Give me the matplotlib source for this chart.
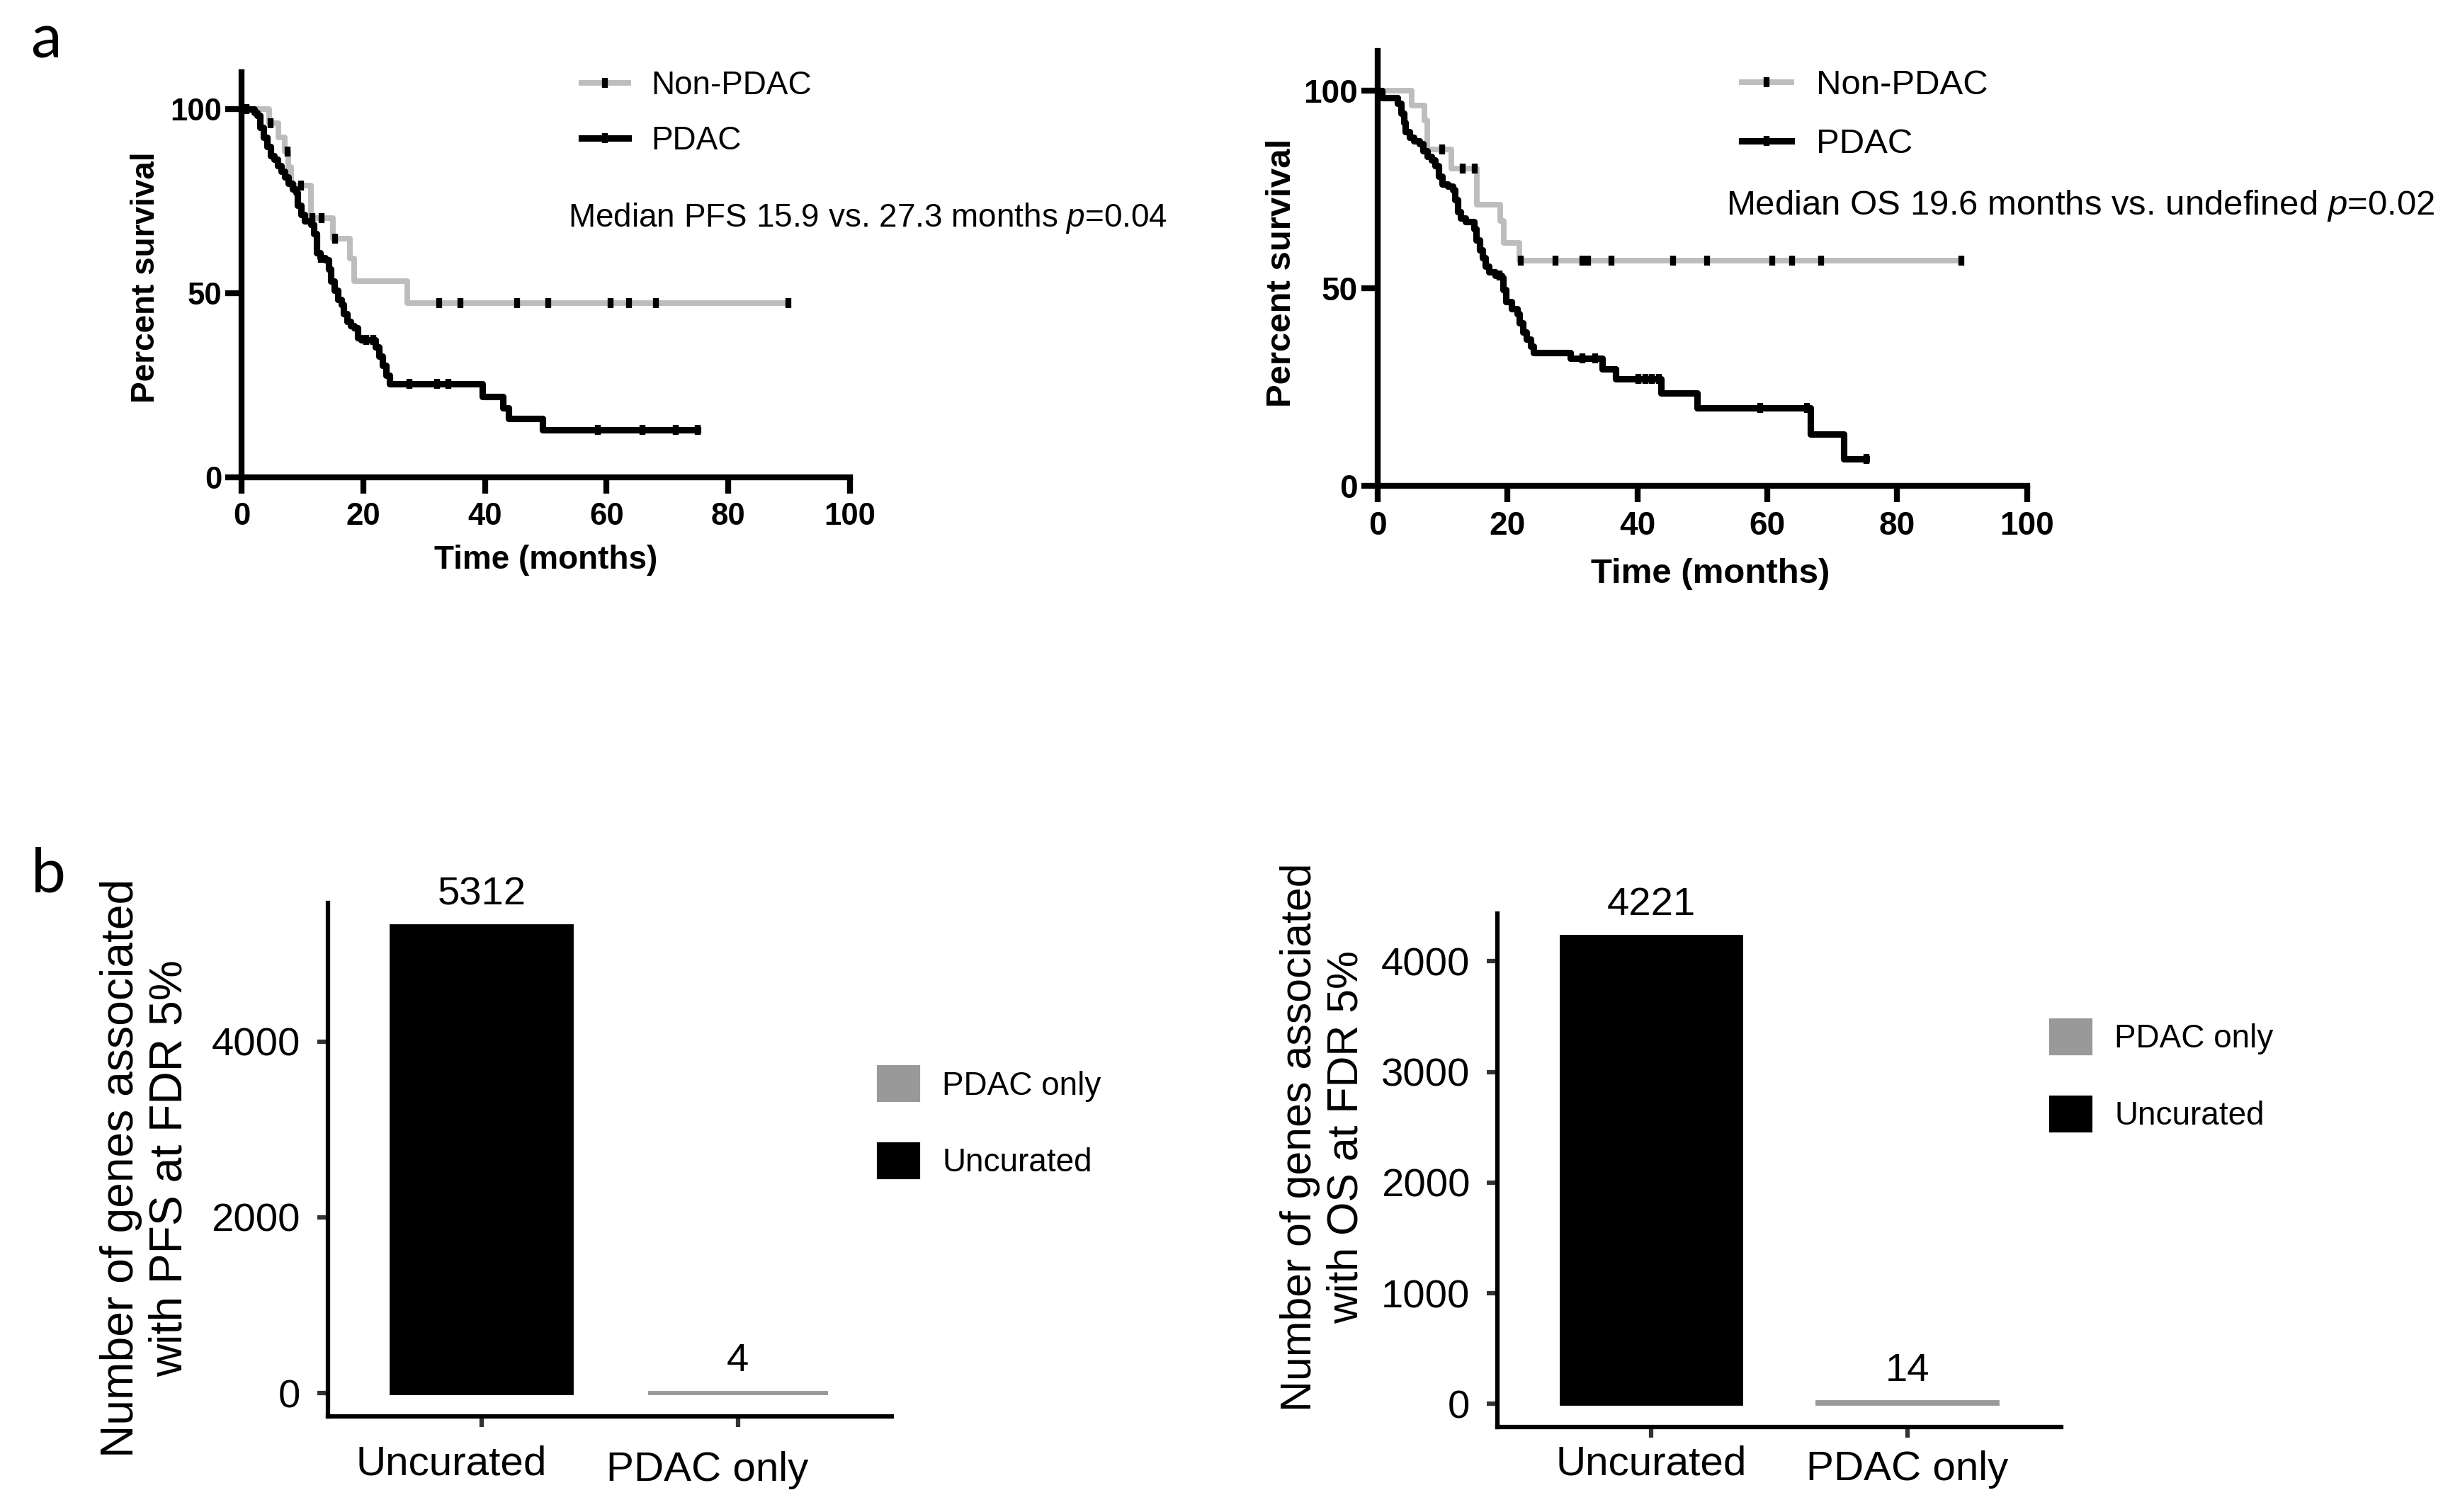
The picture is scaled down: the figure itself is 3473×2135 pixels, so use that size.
#!/usr/bin/env python3
"""Kaplan-Meier curves (PFS / OS, PDAC vs non-PDAC) plus gene-count bar panels."""

import matplotlib

matplotlib.use("Agg")
import matplotlib.pyplot as plt
import numpy as np
from matplotlib.lines import Line2D
from matplotlib.patches import Patch
from matplotlib.transforms import ScaledTranslation

plt.rcParams["font.family"] = ["Liberation Sans", "DejaVu Sans"]
plt.rcParams["mathtext.fontset"] = "custom"
plt.rcParams["mathtext.rm"] = "Liberation Sans"
plt.rcParams["mathtext.it"] = "Liberation Sans:italic"

# ---- PFS (months, percent surviving after each event)
pfs_non_t = [4.5, 6.1, 7.1, 7.7, 8.1, 11.4, 15.0, 17.8, 18.5, 27.2]
pfs_non_s = [96.2, 92.4, 88.5, 84.3, 79.3, 70.3, 64.9, 59.4, 53.3, 47.4]
pfs_non_cens = [4.8, 7.6, 9.8, 11.6, 13.1, 15.4, 32.5, 36.0, 45.3, 50.4, 60.7, 63.7, 68.1, 89.9]

pfs_pdac_t = [2.05, 2.6, 3.0, 3.6, 4.2, 4.8, 5.3, 5.9, 6.5, 7.1, 7.7, 8.4, 9.0, 9.2, 9.8,
              10.4, 11.4, 11.9, 12.3, 12.9, 13.7, 14.3, 14.7, 15.2, 15.8, 16.4, 16.8,
              17.4, 17.9, 18.5, 19.1, 19.7, 22.0, 22.6, 23.2, 23.8, 24.3, 39.6, 42.9,
              43.9, 49.5]
pfs_pdac_s = [99.0, 98.2, 95.0, 92.4, 89.9, 87.3, 86.3, 84.7, 83.1, 81.5, 79.9, 78.3,
              77.4, 73.8, 71.3, 69.7, 68.7, 66.2, 61.0, 59.7, 59.1, 56.5, 53.3, 50.8,
              48.2, 46.9, 44.4, 42.4, 41.2, 40.5, 37.9, 37.3, 35.4, 32.8, 30.3, 27.7,
              25.4, 22.0, 18.9, 15.9, 12.9]
pfs_pdac_cens = [0.8, 13.0, 20.5, 21.7, 27.6, 32.1, 34.0, 58.6, 65.9, 71.4, 75.0]

# ---- OS
os_non_t = [5.2, 7.2, 7.6, 11.4, 15.3, 18.9, 19.4, 21.8]
os_non_s = [96.2, 92.5, 85.1, 80.3, 71.1, 67.0, 61.5, 56.9]
os_non_cens = [9.9, 13.1, 15.0, 22.0, 27.4, 31.5, 32.4, 36.0, 45.5, 50.7, 60.8, 63.8, 68.3, 89.9]

os_pdac_t = [0.7, 3.1, 3.6, 4.0, 4.3, 4.9, 5.6, 6.5, 7.0, 7.6, 8.3, 8.8, 9.4, 9.9, 10.8,
             11.6, 11.9, 12.3, 12.8, 13.5, 14.8, 15.2, 15.7, 16.2, 16.6, 17.1, 18.1,
             19.1, 19.3, 19.7, 20.6, 21.5, 21.8, 22.4, 22.9, 23.6, 24.0, 29.7, 34.6,
             36.7, 43.6, 49.2, 66.6, 71.8]
os_pdac_s = [98.2, 96.7, 94.3, 91.9, 89.6, 88.1, 87.2, 86.6, 84.8, 83.3, 82.4, 80.9,
             78.2, 76.4, 75.8, 74.9, 72.3, 69.3, 67.8, 66.9, 65.1, 62.1, 59.7, 57.6,
             55.5, 54.1, 53.2, 52.6, 49.6, 46.6, 44.8, 43.6, 41.2, 38.8, 37.1, 35.3,
             33.7, 32.2, 29.6, 27.1, 23.4, 19.7, 13.1, 6.8]
os_pdac_cens = [18.8, 31.5, 33.5, 40.2, 41.2, 42.2, 43.3, 58.9, 66.1, 75.3]

# ---- gene counts (panel b)
bar_groups = ["Uncurated", "PDAC only"]
pfs_gene_counts = [5312, 4]
os_gene_counts = [4221, 14]

GREY_KM = "#bdbdbd"
GREY_BAR = "#999999"
FIG_W_PX, FIG_H_PX, DPI = 3473, 2135, 300


def _km_line(t, s, cens):
    last = max([t[-1]] + list(cens))
    xs = np.array([0.0] + list(t) + [last])
    ys = np.array([100.0] + list(s) + [s[-1]])
    # survival value at each censor time
    idx = np.searchsorted(xs[:-1], np.array(cens), side="right") - 1
    return xs, ys, np.array(cens), ys[idx]


def _km_panel(ax, curves, fs, tick_fs, note, ylab_xy, xlab_xy, leg_anchor, leg_spacing):
    for t, s, cens, color, lw in curves:
        xs, ys, cx, cy = _km_line(t, s, cens)
        ax.step(xs, ys, where="post", color=color, lw=lw, clip_on=False, zorder=3)
        ax.plot(cx, cy, ls="none", marker="|", ms=3.4, mew=2.0, color="black",
                clip_on=False, zorder=4)

    ax.set_xlim(0, 100)
    ax.set_ylim(0, 110)
    ax.set_xticks([0, 20, 40, 60, 80, 100])
    ax.set_yticks([0, 50, 100])
    for side in ("top", "right"):
        ax.spines[side].set_visible(False)
    for side in ("left", "bottom"):
        ax.spines[side].set_linewidth(2.0)
    ax.tick_params(direction="out", length=5.5, width=2.0, labelsize=tick_fs)
    ax.tick_params(axis="y", pad=1.2)
    ax.tick_params(axis="x", pad=2.9)
    for lab in ax.get_xticklabels() + ax.get_yticklabels():
        lab.set_fontweight("bold")

    ax.set_ylabel("Percent survival", fontsize=fs, fontweight="bold")
    ax.set_xlabel("Time (months)", fontsize=fs, fontweight="bold")
    ax.yaxis.set_label_coords(*ylab_xy)
    ax.xaxis.set_label_coords(*xlab_xy)

    handles = [
        Line2D([], [], color=GREY_KM, lw=1.9, marker="|", ms=3.4, mew=2.0, mec="black"),
        Line2D([], [], color="black", lw=2.2, marker="|", ms=3.4, mew=2.0, mec="black"),
    ]
    ax.legend(handles, ["Non-PDAC", "PDAC"], loc="upper left", bbox_to_anchor=leg_anchor,
              frameon=False, fontsize=fs, borderpad=0, borderaxespad=0, numpoints=1,
              handlelength=1.43, handletextpad=0.72, labelspacing=leg_spacing)
    ax.text(53.7, note[1], note[0], fontsize=fs, va="center", ha="left")


def _bar_panel(ax, counts, yticks, ylabel, ylab_fs, ylab_xy, leg_anchor, lab_shift, xpad):
    x = np.arange(len(bar_groups))
    ax.bar(x, counts, width=0.7, color=["black", GREY_BAR], edgecolor=["black", GREY_BAR],
           linewidth=1.4)
    top = max(counts)
    ax.set_ylim(-0.05 * top, 1.05 * top)
    ax.set_xlim(-0.6, len(bar_groups) - 0.4)
    ax.set_xticks(x, bar_groups)
    ax.set_yticks(yticks)
    for i, v in enumerate(counts):
        ax.annotate(str(v), xy=(i, v), xytext=(0, 4.5), textcoords="offset points",
                    ha="center", va="bottom", fontsize=13.5)
    for side in ("top", "right"):
        ax.spines[side].set_visible(False)
    for side in ("left", "bottom"):
        ax.spines[side].set_linewidth(1.5)
    ax.tick_params(direction="out", length=3.6, width=1.5, color="#333333")
    ax.tick_params(axis="y", labelsize=13.5, pad=5.8)
    ax.tick_params(axis="x", labelsize=14, pad=xpad)

    # the second category label sits a little lower than the first in the original
    fig = ax.figure
    for lab, dy in zip(ax.get_xticklabels(), (0, -8)):
        lab.set_transform(lab.get_transform()
                          + ScaledTranslation(lab_shift / DPI, dy / DPI, fig.dpi_scale_trans))

    ax.set_ylabel(ylabel, fontsize=ylab_fs)
    ax.yaxis.set_label_coords(*ylab_xy)
    handles = [Patch(facecolor=GREY_BAR, edgecolor=GREY_BAR),
               Patch(facecolor="black", edgecolor="black")]
    ax.legend(handles, ["PDAC only", "Uncurated"], loc="upper left", bbox_to_anchor=leg_anchor,
              frameon=False, fontsize=11, borderpad=0, borderaxespad=0,
              handlelength=1.25, handleheight=1.22, handletextpad=0.72, labelspacing=1.3)


def main():
    fig = plt.figure(figsize=(FIG_W_PX / DPI, FIG_H_PX / DPI), dpi=DPI)

    ax_pfs = fig.add_axes([0.0982, 0.6843, 0.2473, 0.2679])
    ax_os = fig.add_axes([0.5600, 0.6787, 0.2640, 0.2876])
    ax_bp = fig.add_axes([0.1333, 0.0632, 0.2292, 0.3396])
    ax_bo = fig.add_axes([0.6088, 0.0560, 0.2291, 0.3398])

    _km_panel(
        ax_pfs,
        [(pfs_non_t, pfs_non_s, pfs_non_cens, GREY_KM, 1.9),
         (pfs_pdac_t, pfs_pdac_s, pfs_pdac_cens, "black", 2.2)],
        fs=11, tick_fs=10.5,
        note=(r"Median PFS 15.9 vs. 27.3 months $p$=0.04", 70.4),
        ylab_xy=(-0.1316, 0.493), xlab_xy=(0.5, -0.166),
        leg_anchor=(0.5588, 1.006), leg_spacing=0.75,
    )
    _km_panel(
        ax_os,
        [(os_non_t, os_non_s, os_non_cens, GREY_KM, 1.9),
         (os_pdac_t, os_pdac_s, os_pdac_cens, "black", 2.2)],
        fs=11.8, tick_fs=11,
        note=(r"Median OS 19.6 months vs. undefined $p$=0.02", 70.8),
        ylab_xy=(-0.123, 0.49), xlab_xy=(0.5125, -0.166),
        leg_anchor=(0.5605, 0.9575), leg_spacing=0.78,
    )

    _bar_panel(ax_bp, pfs_gene_counts, [0, 2000, 4000],
               "Number of genes associated\nwith PFS at FDR 5%", 15.4,
               (-0.2425, 0.483), (0.976, 0.681), -43, 6.2)
    _bar_panel(ax_bo, os_gene_counts, [0, 1000, 2000, 3000, 4000],
               "Number of genes associated\nwith OS at FDR 5%", 14.6,
               (-0.232, 0.565), (0.981, 0.793), 0, 2.4)

    fig.text(43 / FIG_W_PX, 1 - 82 / FIG_H_PX, "a", fontsize=21, family=["Lato", "DejaVu Sans"],
             va="baseline")
    fig.text(44 / FIG_W_PX, 1 - 1260 / FIG_H_PX, "b", fontsize=21, family=["Lato", "DejaVu Sans"],
             va="baseline")

    fig.savefig("out.png", dpi=DPI)
    plt.close(fig)


if __name__ == "__main__":
    main()
